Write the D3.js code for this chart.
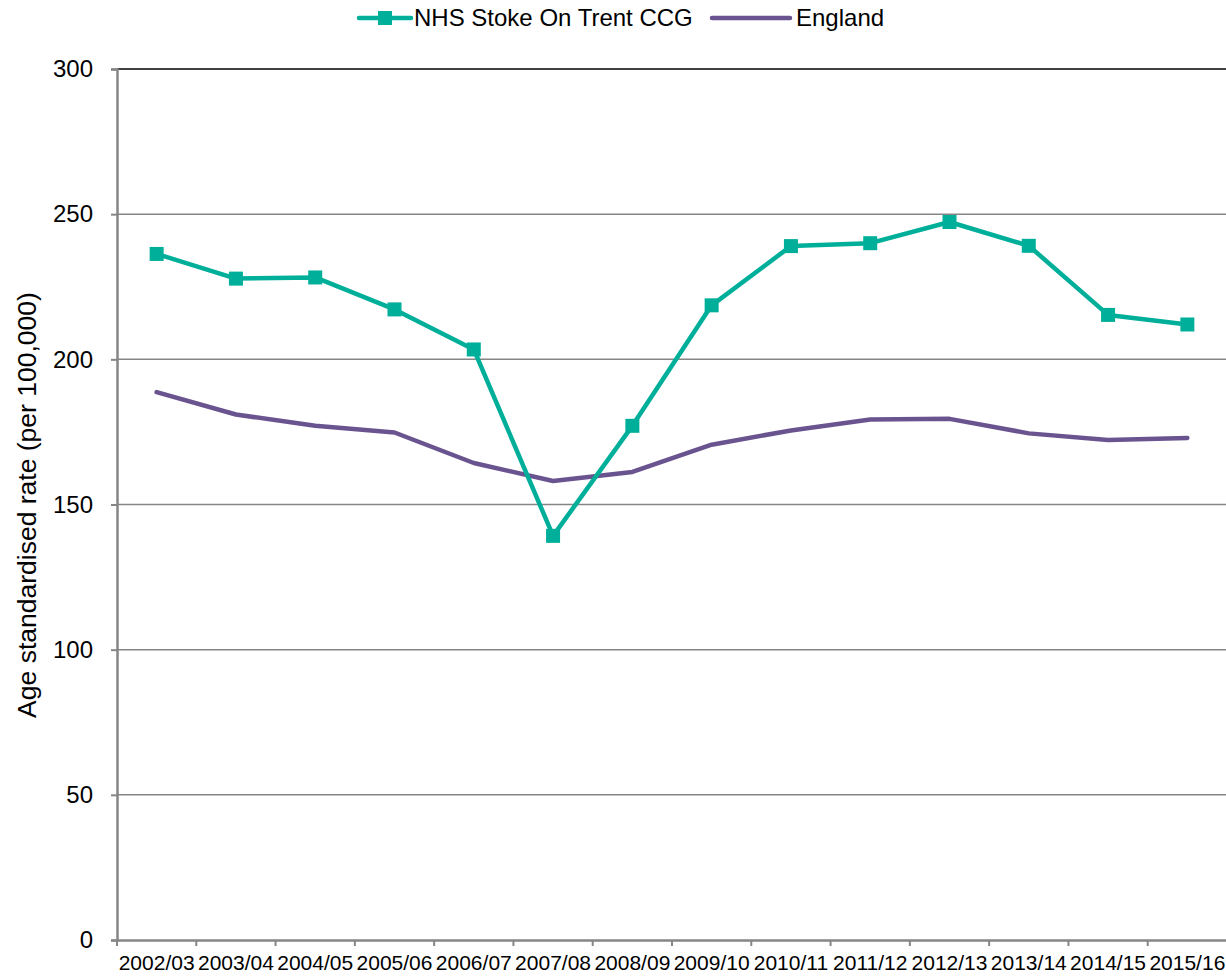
<!DOCTYPE html>
<html><head><meta charset="utf-8">
<script src="https://cdn.jsdelivr.net/npm/d3@7"></script>
<style>
html,body{margin:0;padding:0;background:#fff;overflow:hidden}
text{font-family:"Liberation Sans",Arial,sans-serif;fill:#000}
</style></head>
<body><svg id="chart" width="1226" height="977"></svg>
<script>
const categories = ["2002/03","2003/04","2004/05","2005/06","2006/07","2007/08","2008/09","2009/10","2010/11","2011/12","2012/13","2013/14","2014/15","2015/16"];
const stokeValues = [236.3, 227.8, 228.2, 217.2, 203.4, 139.2, 177.1, 218.6, 239.0, 240.0, 247.3, 239.1, 215.3, 212.0];
const englandValues = [188.7, 181.0, 177.1, 174.8, 164.3, 158.1, 161.2, 170.6, 175.5, 179.3, 179.5, 174.5, 172.2, 172.9];
const yTicks = [0, 50, 100, 150, 200, 250, 300];
const seriesNames = ["NHS Stoke On Trent CCG", "England"];
const colors = ["#00AF9A", "#6A5490"];

const svg = d3.select("#chart");
const pLeft = 117, pRight = 1227, pTop = 69, pBottom = 940;
const x = d3.scaleBand().domain(categories).range([pLeft, pRight]);
const y = d3.scaleLinear().domain([0, 300]).range([pBottom, pTop]);

// gridlines
svg.append("g").selectAll("line").data(yTicks.filter(d => d > 0)).join("line")
  .attr("x1", pLeft).attr("x2", pRight)
  .attr("y1", d => y(d)).attr("y2", d => y(d))
  .attr("stroke", d => d === 300 ? "#000" : "#868686").attr("stroke-width", 1.5);

// y axis
const yAxis = svg.append("g").attr("transform", `translate(${pLeft},0)`)
  .call(d3.axisLeft(y).tickValues(yTicks).tickSize(6).tickPadding(18));
yAxis.select(".domain").attr("stroke", "#868686").attr("stroke-width", 2.5);
yAxis.selectAll(".tick line").attr("stroke", "#868686").attr("stroke-width", 2);
yAxis.selectAll(".tick text").style("font-size", "24px").style("font-family", "Liberation Sans, Arial, sans-serif").attr("fill", "#000");

// x axis
const xAxis = svg.append("g").attr("transform", `translate(0,${pBottom})`)
  .call(d3.axisBottom(x).tickSize(0).tickPadding(15));
xAxis.select(".domain").attr("stroke", "#868686").attr("stroke-width", 2.5);
xAxis.selectAll(".tick text").style("font-size", "21px").style("font-family", "Liberation Sans, Arial, sans-serif").attr("fill", "#000");
// boundary ticks
const boundaries = categories.map(c => x(c)).concat([x(categories[categories.length-1]) + x.bandwidth()]);
svg.append("g").selectAll("line").data(boundaries).join("line")
  .attr("x1", d => d).attr("x2", d => d).attr("y1", pBottom).attr("y2", pBottom + 6)
  .attr("stroke", "#868686").attr("stroke-width", 2);

const cx = c => x(c) + x.bandwidth() / 2;
const line = d3.line().x((d, i) => cx(categories[i])).y(d => y(d));

svg.append("path").datum(englandValues).attr("d", line)
  .attr("fill", "none").attr("stroke", colors[1]).attr("stroke-width", 4.5)
  .attr("stroke-linejoin", "round").attr("stroke-linecap", "round");
svg.append("path").datum(stokeValues).attr("d", line)
  .attr("fill", "none").attr("stroke", colors[0]).attr("stroke-width", 4.5)
  .attr("stroke-linejoin", "round").attr("stroke-linecap", "round");
svg.append("g").selectAll("rect").data(stokeValues).join("rect")
  .attr("x", (d, i) => cx(categories[i]) - 7).attr("y", d => y(d) - 7)
  .attr("width", 14).attr("height", 14).attr("fill", colors[0]);

// y title
svg.append("text").attr("transform", "translate(36,505) rotate(-90)")
  .attr("text-anchor", "middle").style("font-size", "26.5px").text("Age standardised rate (per 100,000)");

// legend
const lg = svg.append("g");
lg.append("line").attr("x1", 359).attr("x2", 411).attr("y1", 18).attr("y2", 18)
  .attr("stroke", colors[0]).attr("stroke-width", 4.5).attr("stroke-linecap", "round");
lg.append("rect").attr("x", 378).attr("y", 11).attr("width", 14).attr("height", 14).attr("fill", colors[0]);
lg.append("text").attr("x", 414).attr("y", 26).style("font-size", "24px").text(seriesNames[0]);
lg.append("line").attr("x1", 712).attr("x2", 790).attr("y1", 18).attr("y2", 18)
  .attr("stroke", colors[1]).attr("stroke-width", 4.5).attr("stroke-linecap", "round");
lg.append("text").attr("x", 796).attr("y", 26).style("font-size", "24px").text(seriesNames[1]);
</script></body></html>
